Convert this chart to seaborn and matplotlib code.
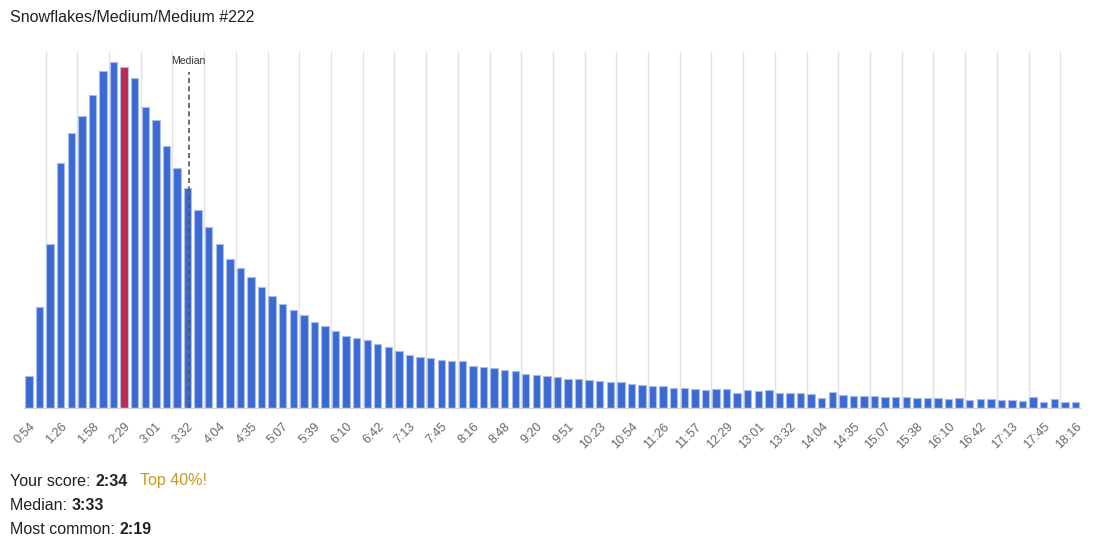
import matplotlib
matplotlib.use("Agg")
import matplotlib.pyplot as plt
import seaborn as sns
import numpy as np
import pandas as pd

# solve time distribution (relative bar heights)
counts = [32, 101, 164, 245, 275, 292, 313, 337, 346, 341,
          330, 301, 288, 262, 240, 220, 198, 181, 164, 149,
          140, 131, 121, 112, 104, 98, 93, 86, 82, 77,
          72, 70, 68, 64, 61, 57, 53, 51, 50.6, 48.6,
          47, 47, 42.6, 41, 40.3, 38.6, 37, 34.6, 33.6, 32,
          31.6, 29, 29.3, 28.3, 27.3, 26.3, 26, 24.3, 23.3, 22.3,
          22, 20.6, 20.3, 19.3, 18.3, 19.3, 19, 15.3, 18.3, 17.3,
          18, 15.6, 15.3, 15, 14, 10.6, 16, 13.3, 12.3, 12.3,
          12.3, 11.6, 11.3, 11, 10.6, 10.6, 10, 9.3, 10, 8,
          9, 9, 8.6, 8, 7.3, 11, 6, 9.3, 6.6, 6.6]

tick_labels = ["0:54", "1:26", "1:58", "2:29", "3:01", "3:32", "4:04", "4:35",
               "5:07", "5:39", "6:10", "6:42", "7:13", "7:45", "8:16", "8:48",
               "9:20", "9:51", "10:23", "10:54", "11:26", "11:57", "12:29",
               "13:01", "13:32", "14:04", "14:35", "15:07", "15:38", "16:10",
               "16:42", "17:13", "17:45", "18:16"]

title = "Snowflakes/Medium/Medium #222"
your_score = "2:34"
median_time = "3:33"
most_common = "2:19"
rank_text = "Top 40%!"
highlight_bar = 9

blue = "#3b6bd2"
red = "#c12a50"


def to_sec(s):
    m, sec = s.split(":")
    return int(m) * 60 + int(sec)


df = pd.DataFrame({"bucket": range(len(counts)), "count": counts})
palette = [red if i == highlight_bar else blue for i in df["bucket"]]

sns.set_theme(style="white")
plt.rcParams["font.family"] = ["Liberation Sans", "DejaVu Sans"]

fig = plt.figure(figsize=(10.94, 5.5), dpi=100)
ax = fig.add_axes([23.7 / 1094, 141.7 / 550, 1057 / 1094, 356.6 / 550])

# vertical gridlines sit between the labelled bars
step = 3
grid_pos = np.arange(1.57, len(counts), step)
for g in grid_pos:
    ax.axvline(g, color="#e3e3e3", lw=1, zorder=0)

sns.barplot(data=df, x="bucket", y="count", hue="bucket", palette=palette,
            legend=False, width=0.7, saturation=1, edgecolor="#a9bcee",
            linewidth=0.8, ax=ax, zorder=2)

ax.set_xlim(-0.5, len(counts) - 0.5)
ax.set_ylim(0, 356.6)
ax.set_xlabel("")
ax.set_ylabel("")
ax.set_yticks([])
for sp in ["top", "left", "right"]:
    ax.spines[sp].set_visible(False)
ax.spines["bottom"].set_color("#d6d6d6")
ax.spines["bottom"].set_linewidth(1)

label_pos = np.arange(0, len(counts), step)[:len(tick_labels)]
ax.set_xticks(label_pos)
ax.set_xticklabels(tick_labels, rotation=45, ha="right", rotation_mode="anchor",
                   fontsize=9, color="#666666")
ax.tick_params(axis="x", which="major", length=0, pad=9)
ax.set_xticks(grid_pos, minor=True)
ax.tick_params(axis="x", which="minor", length=5, color="#d6d6d6", width=1)

# median marker
t0 = to_sec(tick_labels[0])
bin_s = (to_sec(tick_labels[-1]) - t0) / (label_pos[-1])
med_x = (to_sec(median_time) - t0) / bin_s
ax.plot([med_x, med_x], [0, 336.6], color="#555555", lw=1.2,
        ls=(0, (3, 2)), zorder=3)
ax.text(med_x, 347, "Median", ha="center", va="center", fontsize=7.5,
        color="#333333")

# page texts
fig.text(10 / 1094, 1 - 18 / 550, title, ha="left", va="center",
         fontsize=11.5, color="#222222")

renderer = fig.canvas.get_renderer()


def line(y_px, parts):
    x = 10 / 1094
    for txt, weight, color, gap in parts:
        x += gap / 1094
        t = fig.text(x, 1 - y_px / 550, txt, ha="left", va="center",
                     fontsize=11.5, fontweight=weight, color=color)
        bb = t.get_window_extent(renderer=renderer)
        x = bb.x1 / fig.bbox.width


line(481, [("Your score: ", "normal", "#222222", 0),
           (your_score, "bold", "#222222", 0),
           (rank_text, "normal", "#c9961f", 13)])
line(505, [("Median: ", "normal", "#222222", 0),
           (median_time, "bold", "#222222", 0)])
line(529, [("Most common: ", "normal", "#222222", 0),
           (most_common, "bold", "#222222", 0)])

fig.savefig("out.png", dpi=100)
